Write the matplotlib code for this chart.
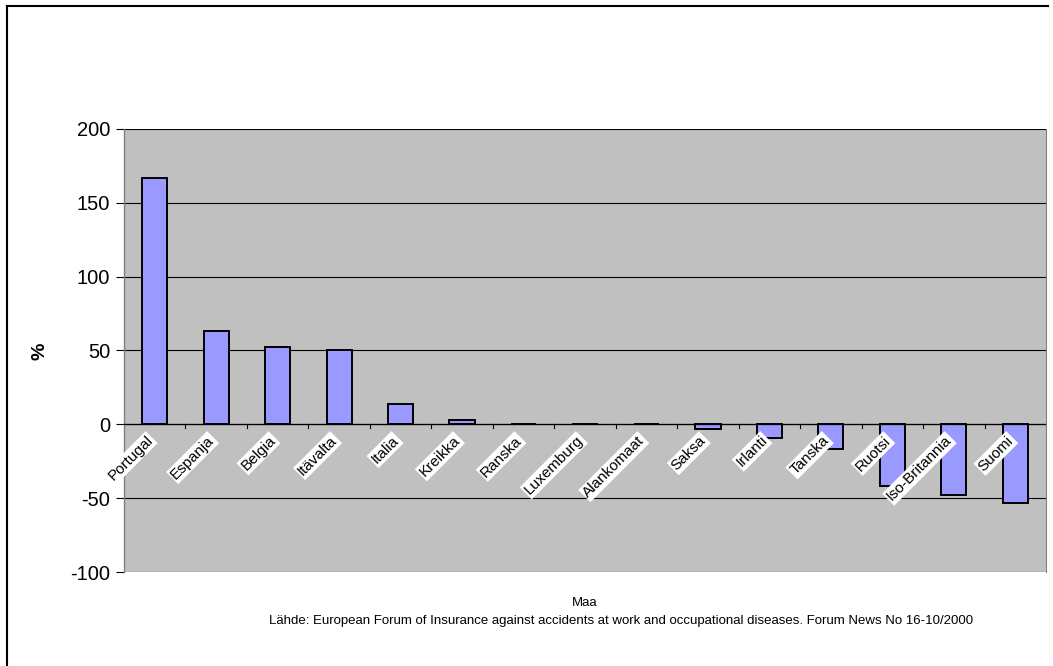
import matplotlib.pyplot as plt
from matplotlib.lines import Line2D
import numpy as np

plt.rcParams["font.family"] = ["Liberation Sans", "DejaVu Sans"]

maat = ["Portugal", "Espanja", "Belgia", "Itävalta", "Italia", "Kreikka",
        "Ranska", "Luxemburg", "Alankomaat", "Saksa", "Irlanti", "Tanska",
        "Ruotsi", "Iso-Britannia", "Suomi"]
muutos = [166.5, 63.5, 52.5, 50, 13.5, 3, 0, 0, 0, -3, -9, -17, -42, -48, -53.5]
y_ticks = [-100, -50, 0, 50, 100, 150, 200]

W, H = 1053, 666
fig = plt.figure(figsize=(W / 100, H / 100), dpi=100)
ax = fig.add_axes([124 / W, (H - 572) / H, 922 / W, 443 / H])

x = np.arange(len(maat))
ax.bar(x, muutos, width=0.41, color="#9999ff", edgecolor="black",
       linewidth=1.4, zorder=3)

ax.set_facecolor("#c0c0c0")
ax.set_xlim(-0.5, len(maat) - 0.5)
ax.set_ylim(-100, 200)
ax.set_yticks(y_ticks)
ax.set_yticklabels([str(v) for v in y_ticks], fontsize=14.5)
ax.tick_params(axis="y", direction="out", length=6, width=0.8, pad=4)
ax.yaxis.grid(True, color="black", linewidth=0.8, zorder=1)
ax.axhline(0, color="black", linewidth=0.9, zorder=4)

# category boundaries marked on the zero line
ax.set_xticks([])
for b in np.arange(0.5, len(maat) - 0.5, 1.0):
    ax.plot([b, b], [0, -2.5], color="black", linewidth=0.8, zorder=4)

for sp in ["top", "bottom"]:
    ax.spines[sp].set_visible(False)
ax.spines["left"].set_color("#808080")
ax.spines["right"].set_color("#808080")
ax.spines["left"].set_linewidth(1.0)

for i, nimi in enumerate(maat):
    ax.annotate(nimi, xy=(i, 0), xytext=(-3, -10), textcoords="offset points",
                rotation=45, rotation_mode="anchor", ha="right", va="center",
                fontsize=11, zorder=5,
                bbox=dict(boxstyle="square,pad=0.1", fc="white", ec="none"))

fig.text(40 / W, 1 - 351 / H, "%", rotation=90, fontsize=14,
         fontweight="bold", ha="center", va="center")
fig.text(585 / W, 1 - 603 / H, "Maa", fontsize=9.5, ha="center", va="center")
fig.text(621 / W, 1 - 621 / H,
         "Lähde: European Forum of Insurance against accidents at work and "
         "occupational diseases. Forum News No 16-10/2000",
         fontsize=9.5, ha="center", va="center")

# chart frame
fig.add_artist(Line2D([7 / W, 7 / W], [0, 1 - 6 / H], transform=fig.transFigure,
                      color="black", linewidth=1.5))
fig.add_artist(Line2D([7 / W, 1048 / W], [1 - 6 / H, 1 - 6 / H],
                      transform=fig.transFigure, color="black", linewidth=1.5))

fig.savefig("out.png", dpi=100)
